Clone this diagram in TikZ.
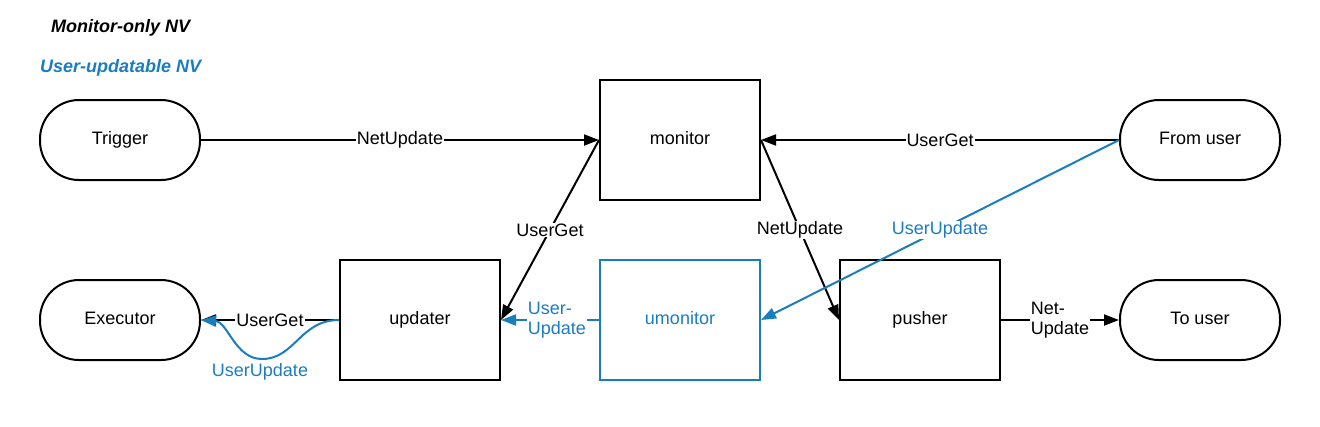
\documentclass[tikz,border=0pt]{standalone}
\usepackage{fontspec}
\setmainfont{Liberation Sans}
\usetikzlibrary{arrows.meta}
\definecolor{ublue}{HTML}{1A7DC0}
\tikzset{
  x=1pt, y=-1pt,
  every node/.style={font=\fontsize{18}{20}\selectfont},
  boxnode/.style={draw, line width=2pt, minimum width=160pt, minimum height=120pt, inner sep=0pt, text height=13pt, text depth=4pt},
  stadium/.style={draw, line width=2pt, rounded corners=39pt, minimum width=160pt, minimum height=80pt, inner sep=0pt, text height=13pt, text depth=4pt},
  conn/.style={line width=2pt, -{Triangle[length=15pt,width=11pt]}},
  bconn/.style={conn, draw=ublue},
  lbl/.style={fill=white, inner sep=1pt, align=left},
  blbl/.style={lbl, text=ublue},
  ttl/.style={font=\fontsize{18}{20}\selectfont\bfseries\itshape, anchor=west, inner sep=0pt}
}
\begin{document}
\begin{tikzpicture}
\useasboundingbox (0,0) rectangle (1320,426);
\node[ttl] (t1) at (51,28) {Monitor-only NV};
\node[ttl, text=ublue] (t2) at (40,68) {User-updatable NV};

\node[stadium] (trigger) at (120,140) {Trigger};
\node[boxnode] (monitor) at (680,140) {monitor};
\node[stadium] (fromuser) at (1200,140) {From user};
\node[stadium] (executor) at (120,320) {Executor};
\node[boxnode] (updater) at (420,320) {updater};
\node[boxnode, draw=ublue, text=ublue] (umonitor) at (680,320) {umonitor};
\node[boxnode] (pusher) at (920,320) {pusher};
\node[stadium] (touser) at (1200,320) {To user};

\draw[conn] (trigger.east) -- node[lbl, pos=0.5] {NetUpdate} (monitor.west);
\draw[conn] (fromuser.west) -- node[lbl, pos=0.5] {UserGet} (monitor.east);
\draw[conn] (monitor.west) -- node[lbl, pos=0.5] {UserGet} (updater.east);
\draw[conn] (monitor.east) -- node[lbl, pos=0.5] {NetUpdate} (pusher.west);
\draw[bconn] (fromuser.west) -- node[blbl, pos=0.5] {UserUpdate} (umonitor.east);
\draw[bconn] (umonitor.west) -- node[blbl, pos=0.43, align=left] {User-\\Update} (updater.east);
\draw[conn] (updater.west) -- node[lbl, pos=0.5] {UserGet} (executor.east);
\draw[bconn] (updater.west) .. controls (300,320) and (295,359) .. (262,359)
  coordinate (dip) .. controls (235,359) and (228,322) .. (executor.east);
\node[text=ublue, inner sep=1pt] (uulbl) at (260,372) {UserUpdate};
\draw[conn] (pusher.east) -- node[lbl, pos=0.5, align=left] {Net-\\Update} (touser.west);
\end{tikzpicture}
\end{document}
